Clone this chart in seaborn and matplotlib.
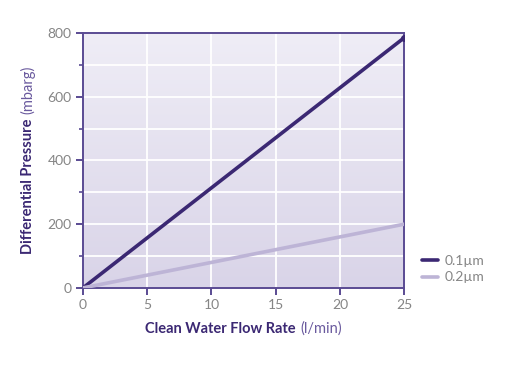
import numpy as np
import pandas as pd
import matplotlib
matplotlib.use("Agg")
import matplotlib.pyplot as plt
import seaborn as sns
from matplotlib.offsetbox import TextArea, HPacker, AnchoredOffsetbox
from matplotlib.ticker import MultipleLocator
from matplotlib.colors import LinearSegmentedColormap
from matplotlib.lines import Line2D

flow = [0, 25]
dp_01 = [0, 785]
dp_02 = [0, 200]
series = ["0.1µm", "0.2µm"]
x_ticks = [0, 5, 10, 15, 20, 25]
y_ticks = [0, 200, 400, 600, 800]

df = pd.DataFrame({
    "flow": flow * 2,
    "dp": dp_01 + dp_02,
    "filter": [series[0]] * len(flow) + [series[1]] * len(flow),
})

sns.set_theme(style="white")
plt.rcParams['font.family'] = ['Lato', 'DejaVu Sans']

dark = "#3b2873"
light = "#bdb4d6"
spine_c = "#5a4b93"
tick_c = "#858585"
unit_c = "#6a5a9e"
fs = 10.5

fig = plt.figure(figsize=(5.09, 3.71), dpi=100)
ax = fig.add_axes([0.163, 0.224, 0.631, 0.687])

grad = np.linspace(0, 1, 256).reshape(-1, 1)
cmap = LinearSegmentedColormap.from_list("bg", ["#efedf6", "#d9d4e8"])
ax.imshow(grad, aspect="auto", cmap=cmap, extent=[0, 1, 0, 1],
          transform=ax.transAxes, zorder=0)

sns.lineplot(data=df, x="flow", y="dp", hue="filter",
             palette=[dark, light], linewidth=2.6, ax=ax, zorder=3, legend=False)
ax.plot(flow[-1:], dp_01[-1:], "o", color=dark, ms=4, zorder=4)

ax.set_xlim(0, 25)
ax.set_ylim(0, 800)
ax.set_xticks(x_ticks)
ax.set_yticks(y_ticks)
ax.yaxis.set_minor_locator(MultipleLocator(100))
ax.grid(True, which="both", color="white", linewidth=1.3, zorder=1)
ax.set_axisbelow(True)
for s in ax.spines.values():
    s.set_color(spine_c)
    s.set_linewidth(1.4)
ax.tick_params(axis="both", which="major", direction="out", length=5, width=1.4,
               color=spine_c, labelcolor=tick_c, labelsize=10, pad=3)
ax.tick_params(axis="y", which="minor", direction="out", length=3, width=1.2, color=spine_c)
ax.tick_params(axis="x", which="major", bottom=True)
ax.tick_params(axis="y", which="both", left=True)
ax.set_xlabel("")
ax.set_ylabel("")

t1 = TextArea("Clean Water Flow Rate", textprops=dict(color=dark, fontweight="bold", fontsize=fs))
t2 = TextArea("(l/min)", textprops=dict(color=unit_c, fontsize=fs))
xl = HPacker(children=[t1, t2], align="baseline", pad=0, sep=3)
box = AnchoredOffsetbox(loc="center", child=xl, frameon=False,
                        bbox_to_anchor=(0.478, 0.115), bbox_transform=fig.transFigure, pad=0)
fig.add_artist(box)

# rotated y label in two weights, packed end to end
ya = fig.text(0.055, 0.5, "Differential Pressure", rotation=90, color=dark,
              fontweight="bold", fontsize=fs, ha="center", va="bottom")
yb = fig.text(0.055, 0.5, "(mbarg)", rotation=90, color=unit_c,
              fontsize=fs, ha="center", va="bottom")
fig.canvas.draw()
r = fig.canvas.get_renderer()
ha_ = ya.get_window_extent(r).height
hb_ = yb.get_window_extent(r).height
H = fig.bbox.height
gap = 4
total = ha_ + hb_ + gap
center = 0.569 * H
y0 = center - total / 2
ya.set_y(y0 / H)
yb.set_y((y0 + ha_ + gap) / H)

handles = [Line2D([], [], color=dark, lw=2.6), Line2D([], [], color=light, lw=2.6)]
leg = fig.legend(handles, series, loc="center left", bbox_to_anchor=(0.805, 0.275),
                 frameon=False, fontsize=10, handlelength=1.1, handletextpad=0.5,
                 labelspacing=0.35)
for t in leg.get_texts():
    t.set_color(tick_c)

fig.savefig("out.png", dpi=100)
